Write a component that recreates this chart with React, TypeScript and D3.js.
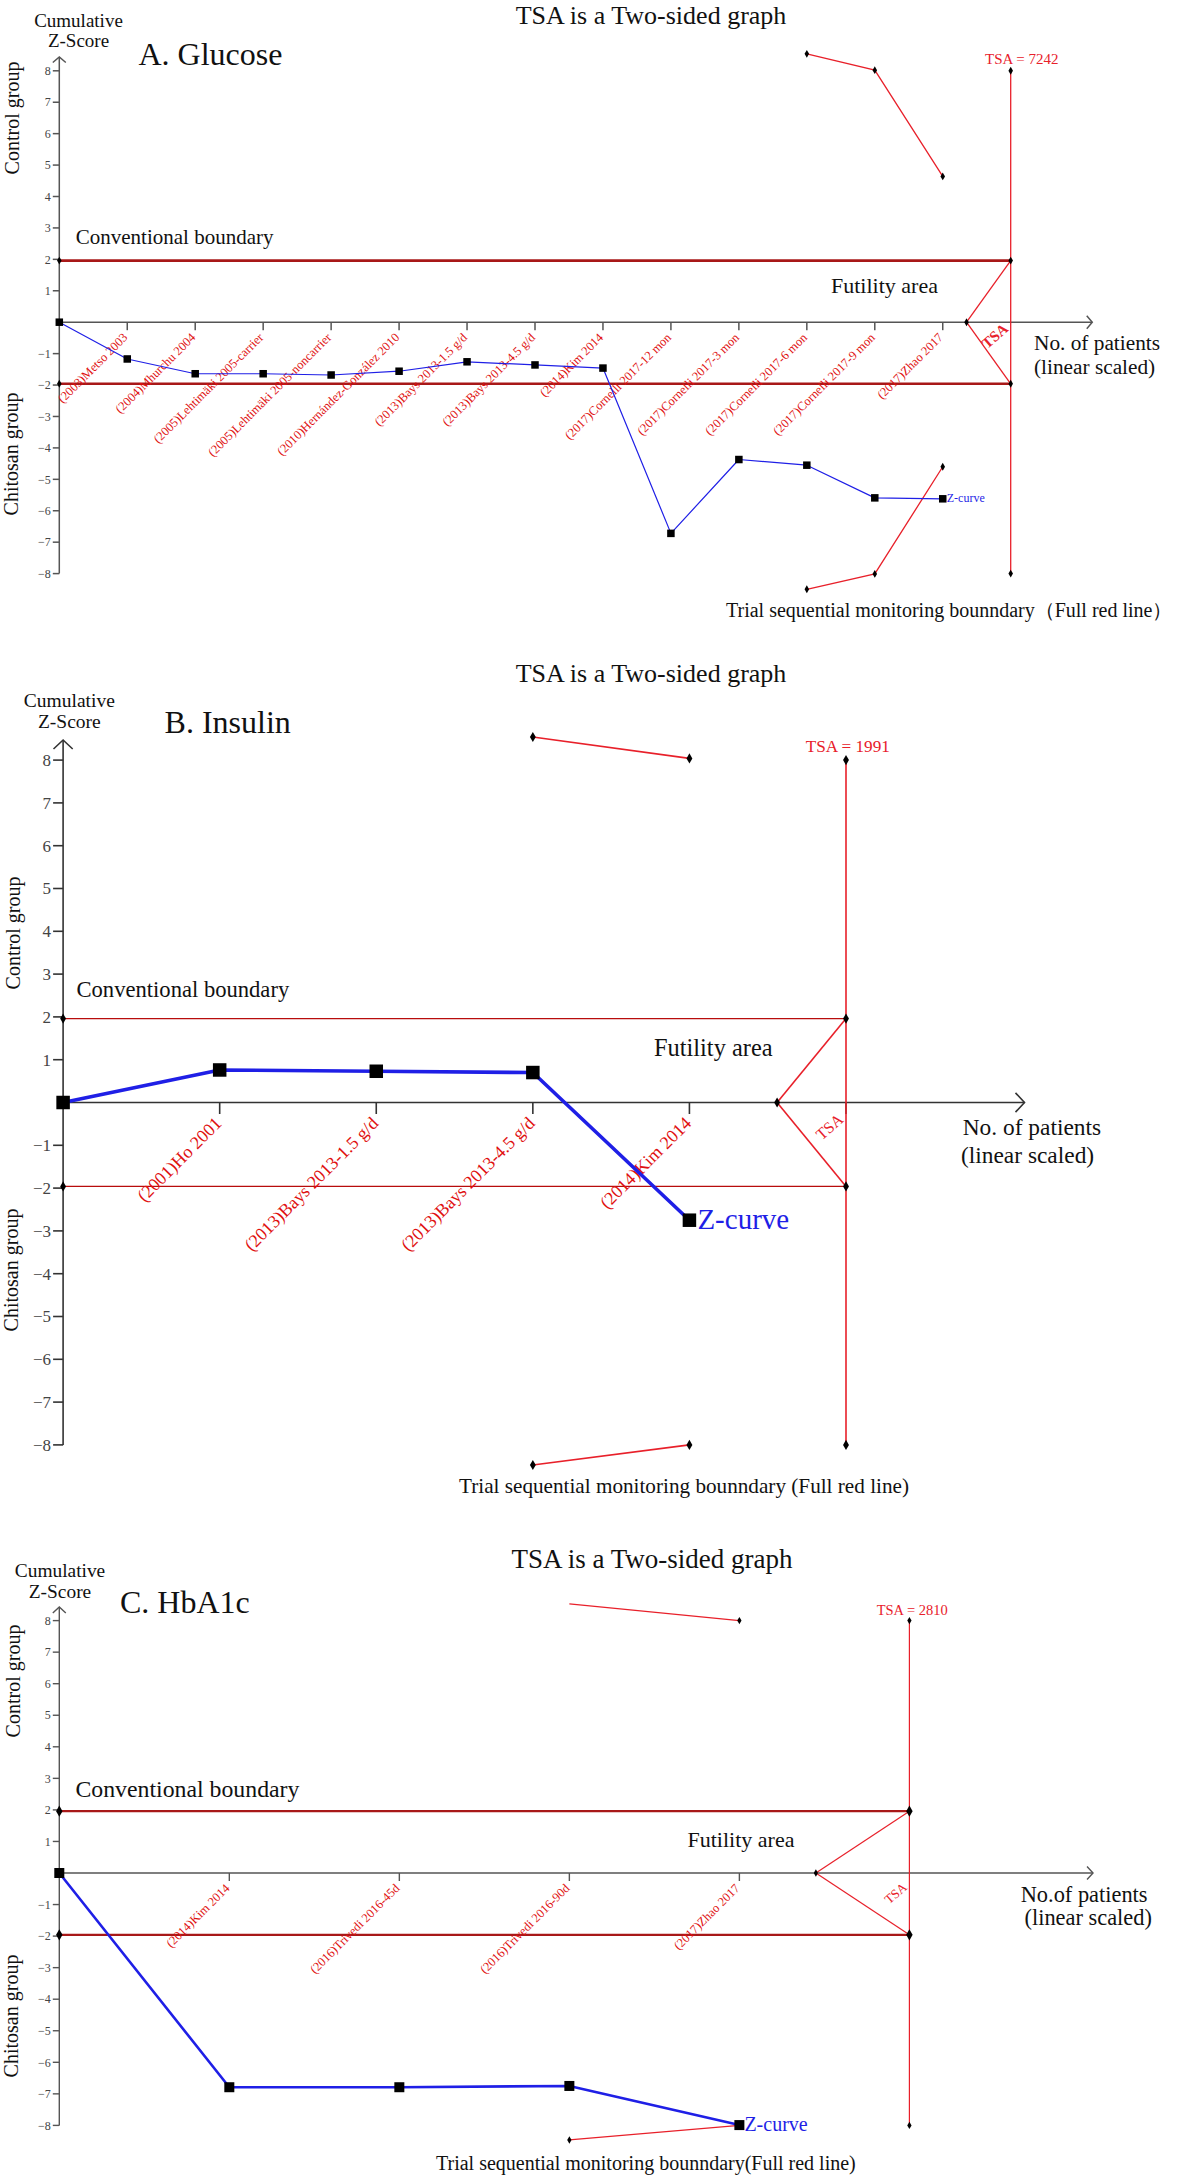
import React from "react";
import * as d3 from "d3";

// ---------------- DATA ----------------
const glucoseStudies = [
  "(2003)Metso 2003",
  "(2004)Mhurchu 2004",
  "(2005)Lehtimäki 2005-carrier",
  "(2005)Lehtimäki 2005-noncarrier",
  "(2010)Hernández-González 2010",
  "(2013)Bays 2013-1.5 g/d",
  "(2013)Bays 2013-4.5 g/d",
  "(2014)Kim 2014",
  "(2017)Cornelli 2017-12 mon",
  "(2017)Cornelli 2017-3 mon",
  "(2017)Cornelli 2017-6 mon",
  "(2017)Cornelli 2017-9 mon",
  "(2017)Zhao 2017",
];
const glucoseZCurve = [0, -1.17, -1.64, -1.64, -1.68, -1.56, -1.26, -1.36, -1.46, -6.72, -4.37, -4.55, -5.59, -5.62];
const glucoseBoundaryAt = [11, 12, 13];
const glucoseUpper = [8.54, 8.02, 4.64];
const glucoseLower = [-8.5, -8.01, -4.6];
const glucoseFutilityAt = 13.35;
const glucoseTSA = 7242;

const insulinStudies = ["(2001)Ho 2001", "(2013)Bays 2013-1.5 g/d", "(2013)Bays 2013-4.5 g/d", "(2014)Kim 2014"];
const insulinZCurve = [0, 0.76, 0.73, 0.7, -2.75];
const insulinBoundaryAt = [3, 4];
const insulinUpper = [8.54, 8.04];
const insulinLower = [-8.47, -8.0];
const insulinFutilityAt = 4.56;
const insulinTSA = 1991;

const hba1cStudies = ["(2014)Kim 2014", "(2016)Trivedi 2016-45d", "(2016)Trivedi 2016-90d", "(2017)Zhao 2017"];
const hba1cZCurve = [0, -6.79, -6.79, -6.75, -7.99];
const hba1cBoundaryAt = [3, 4];
const hba1cUpper = [8.53, 8.0];
const hba1cLower = [-8.46, -8.0];
const hba1cFutilityAt = 4.45;
const hba1cTSA = 2810;

const yTickValues = [8, 7, 6, 5, 4, 3, 2, 1, -1, -2, -3, -4, -5, -6, -7, -8];
const conventionalZ = 1.96;
const tsaEdgeZ = 8;

const panelLabels = ["A. Glucose", "B. Insulin", "C. HbA1c"];
const titleText = "TSA is a Two-sided graph";
const monitorLabels = [
  "Trial sequential monitoring bounndary（Full red line）",
  "Trial sequential monitoring bounndary (Full red line)",
  "Trial sequential monitoring bounndary(Full red line)",
];
const patientsLabels = ["No. of patients", "No. of patients", "No.of patients"];

// ---------------- STYLE / LAYOUT ----------------
const FONT = "'Times New Roman', 'Liberation Serif', Times, serif";
const RED = "#e8202a";
const DARKRED = "#a81818";
const BLUE = "#1f1fe6";

type Layout = {
  left: number; tsaX: number; zTop: number; zBottom: number; axisEndAt: number; arrowTop: number;
  axisColor: string; axisW: number; arrow: [number, number];
  tickLen: number; tickFont: number; tickLabelGap: number;
  convColor: string; convW: number; redW: number;
  zW: number; sq: number; dia: number; diaBig: number;
  studyFont: number; studyDx: number; studyDy: number;
  tsaRotFont: number; tsaRotBold: boolean; tsaRotDy: number; tsaTick: boolean;
  title: [number, number, number];
  cum: [number, number, number, number];
  plabel: [number, number, number];
  ctrlY: number; chitY: number; sideX: [number, number]; sideFont: number;
  conv: [number, number, number];
  fut: [number, number, number];
  pat: [number, number, number, number, number];
  mon: [number, number, number];
  tsaLbl: [number, number, number];
  zLbl: [number, number, number];
};

type Panel = {
  idx: number; studies: string[]; z: number[]; bAt: number[]; up: number[]; lo: number[];
  futAt: number; tsa: number; upStartMark: boolean; L: Layout;
};

const panels: Panel[] = [
  {
    idx: 0, studies: glucoseStudies, z: glucoseZCurve, bAt: glucoseBoundaryAt, up: glucoseUpper, lo: glucoseLower,
    futAt: glucoseFutilityAt, tsa: glucoseTSA, upStartMark: true,
    L: {
      left: 59.3, tsaX: 1010.7, zTop: 70.8, zBottom: 573.6, axisEndAt: 15.2, arrowTop: 57,
      axisColor: "#555", axisW: 1.5, arrow: [6.5, 5.5],
      tickLen: 6.5, tickFont: 12, tickLabelGap: 2,
      convColor: DARKRED, convW: 2.6, redW: 1.3,
      zW: 1.2, sq: 7.5, dia: 18, diaBig: 18,
      studyFont: 12.5, studyDx: 1, studyDy: 16,
      tsaRotFont: 15, tsaRotBold: true, tsaRotDy: 8, tsaTick: false,
      title: [651, 23.5, 26],
      cum: [78.5, 26.7, 46.7, 19],
      plabel: [138.5, 65, 32],
      ctrlY: 118, chitY: 454, sideX: [18.5, 18], sideFont: 20,
      conv: [75.8, 244.3, 21],
      fut: [831, 293, 22],
      pat: [1034, 350, 1034, 374, 21.3],
      mon: [726, 617, 20],
      tsaLbl: [985, 64, 15],
      zLbl: [4, 3, 12],
    },
  },
  {
    idx: 1, studies: insulinStudies, z: insulinZCurve, bAt: insulinBoundaryAt, up: insulinUpper, lo: insulinLower,
    futAt: insulinFutilityAt, tsa: insulinTSA, upStartMark: true,
    L: {
      left: 63.1, tsaX: 846, zTop: 760.1, zBottom: 1444.9, axisEndAt: 6.14, arrowTop: 740,
      axisColor: "#333", axisW: 1.6, arrow: [9.6, 9],
      tickLen: 10, tickFont: 17, tickLabelGap: 2,
      convColor: "#b80c0c", convW: 1.4, redW: 1.6,
      zW: 3.6, sq: 13.5, dia: 30, diaBig: 30,
      studyFont: 18, studyDx: 3, studyDy: 22,
      tsaRotFont: 16, tsaRotBold: false, tsaRotDy: 18.5, tsaTick: true,
      title: [651, 682, 26],
      cum: [69.3, 707, 728, 19.5],
      plabel: [164.6, 733, 32],
      ctrlY: 933, chitY: 1270, sideX: [19.5, 18], sideFont: 20,
      conv: [76.5, 996.7, 22.6],
      fut: [654, 1056, 24.4],
      pat: [962.7, 1135, 961, 1163, 23.4],
      mon: [459, 1493, 21.2],
      tsaLbl: [805.7, 751.7, 17.2],
      zLbl: [8, 9, 29],
    },
  },
  {
    idx: 2, studies: hba1cStudies, z: hba1cZCurve, bAt: hba1cBoundaryAt, up: hba1cUpper, lo: hba1cLower,
    futAt: hba1cFutilityAt, tsa: hba1cTSA, upStartMark: false,
    L: {
      left: 59.3, tsaX: 909.4, zTop: 1620.6, zBottom: 2125.4, axisEndAt: 6.08, arrowTop: 1607,
      axisColor: "#555", axisW: 1.4, arrow: [6.5, 6],
      tickLen: 6.5, tickFont: 12, tickLabelGap: 2,
      convColor: DARKRED, convW: 2.2, redW: 1.2,
      zW: 2.6, sq: 10, dia: 16, diaBig: 36,
      studyFont: 12.5, studyDx: 1, studyDy: 16,
      tsaRotFont: 13, tsaRotBold: false, tsaRotDy: 15.5, tsaTick: false,
      title: [652, 1568, 27],
      cum: [60, 1577, 1598, 19.4],
      plabel: [120, 1613, 32],
      ctrlY: 1681, chitY: 2016, sideX: [19.5, 18], sideFont: 20,
      conv: [75.4, 1796.7, 23.8],
      fut: [687.5, 1846.7, 22],
      pat: [1020.7, 1901.7, 1024.5, 1925, 22.4],
      mon: [436, 2170, 20],
      tsaLbl: [876.7, 1615, 14.5],
      zLbl: [5, 6, 20],
    },
  },
];

const minus = (v: number) => String(v).replace("-", "\u2212");

function PanelView({ p }: { p: Panel }) {
  const L = p.L;
  const n = p.studies.length;
  const tsaAt = n + 1;
  const x = d3.scaleLinear().domain([0, tsaAt]).range([L.left, L.tsaX]);
  const y = d3.scaleLinear().domain([-tsaEdgeZ, tsaEdgeZ]).range([L.zBottom, L.zTop]);
  const y0 = y(0);
  const xEnd = x(L.axisEndAt);
  const [aw, ah] = L.arrow;
  const diamond = d3.symbol().type(d3.symbolDiamond);
  const dSmall = diamond.size(L.dia)() as string;
  const dBig = diamond.size(L.diaBig)() as string;

  const zLine = d3.line<number>().x((_, i) => x(i)).y((d) => y(d))(p.z) as string;
  const bLine = (vals: number[]) =>
    d3.line<number>().x((_, i) => x(p.bAt[i])).y((d) => y(d))(vals) as string;

  const last = p.z.length - 1;
  const tsaRot = -41;

  return (
    <g fontFamily={FONT}>
      {/* header texts */}
      <text x={L.title[0]} y={L.title[1]} fontSize={L.title[2]} textAnchor="middle" fill="#111">{titleText}</text>
      <text x={L.cum[0]} y={L.cum[1]} fontSize={L.cum[3]} textAnchor="middle" fill="#111">Cumulative</text>
      <text x={L.cum[0]} y={L.cum[2]} fontSize={L.cum[3]} textAnchor="middle" fill="#111">Z-Score</text>
      <text x={L.plabel[0]} y={L.plabel[1]} fontSize={L.plabel[2]} fill="#111">{panelLabels[p.idx]}</text>
      <text transform={`translate(${L.sideX[0]},${L.ctrlY}) rotate(-90)`} fontSize={L.sideFont} textAnchor="middle" fill="#111">Control group</text>
      <text transform={`translate(${L.sideX[1]},${L.chitY}) rotate(-90)`} fontSize={L.sideFont} textAnchor="middle" fill="#111">Chitosan group</text>

      {/* y axis */}
      <line x1={L.left} x2={L.left} y1={L.arrowTop} y2={y(-8)} stroke={L.axisColor} strokeWidth={L.axisW} />
      <path d={`M${L.left - aw},${L.arrowTop + ah} L${L.left},${L.arrowTop} L${L.left + aw},${L.arrowTop + ah}`} fill="none" stroke={L.axisColor} strokeWidth={L.axisW} />
      {yTickValues.map((v) => (
        <g key={v}>
          <line x1={L.left - L.tickLen} x2={L.left} y1={y(v)} y2={y(v)} stroke={L.axisColor} strokeWidth={L.axisW} />
          <text x={L.left - L.tickLen - L.tickLabelGap} y={y(v)} dy="0.35em" fontSize={L.tickFont} textAnchor="end" fill="#444">{minus(v)}</text>
        </g>
      ))}

      {/* conventional boundaries */}
      <line x1={L.left} x2={L.tsaX} y1={y(conventionalZ)} y2={y(conventionalZ)} stroke={L.convColor} strokeWidth={L.convW} />
      <line x1={L.left} x2={L.tsaX} y1={y(-conventionalZ)} y2={y(-conventionalZ)} stroke={L.convColor} strokeWidth={L.convW} />
      <path d={dBig} transform={`translate(${L.left},${y(conventionalZ)})`} fill="#000" />
      <path d={dBig} transform={`translate(${L.left},${y(-conventionalZ)})`} fill="#000" />

      {/* x axis */}
      <line x1={L.left} x2={xEnd} y1={y0} y2={y0} stroke={L.axisColor} strokeWidth={L.axisW} />
      <path d={`M${xEnd - ah},${y0 - aw} L${xEnd},${y0} L${xEnd - ah},${y0 + aw}`} fill="none" stroke={L.axisColor} strokeWidth={L.axisW} />
      {p.studies.map((s, i) => (
        <g key={s + i}>
          <line x1={x(i + 1)} x2={x(i + 1)} y1={y0} y2={y0 + L.tickLen + 1.5} stroke={L.axisColor} strokeWidth={L.axisW} />
          <text transform={`translate(${x(i + 1) + L.studyDx},${y0 + L.studyDy}) rotate(-45)`} fontSize={L.studyFont} textAnchor="end" fill="#e01010">{s}</text>
        </g>
      ))}
      {L.tsaTick && <line x1={x(tsaAt)} x2={x(tsaAt)} y1={y0} y2={y0 + L.tickLen + 1.5} stroke={L.axisColor} strokeWidth={L.axisW} />}

      {/* TSA vertical, futility wedge */}
      <line x1={x(tsaAt)} x2={x(tsaAt)} y1={y(tsaEdgeZ)} y2={y(-tsaEdgeZ)} stroke={RED} strokeWidth={L.redW} />
      <line x1={x(p.futAt)} y1={y0} x2={x(tsaAt)} y2={y(conventionalZ)} stroke={RED} strokeWidth={L.redW} />
      <line x1={x(p.futAt)} y1={y0} x2={x(tsaAt)} y2={y(-conventionalZ)} stroke={RED} strokeWidth={L.redW} />
      <path d={dSmall} transform={`translate(${x(p.futAt)},${y0})`} fill="#000" />
      {[tsaEdgeZ, -tsaEdgeZ].map((v) => (
        <path key={v} d={dSmall} transform={`translate(${x(tsaAt)},${y(v)})`} fill="#000" />
      ))}
      {[conventionalZ, -conventionalZ].map((v) => (
        <path key={v} d={dBig} transform={`translate(${x(tsaAt)},${y(v)})`} fill="#000" />
      ))}

      {/* monitoring boundaries */}
      <path d={bLine(p.up)} fill="none" stroke={RED} strokeWidth={L.redW} />
      <path d={bLine(p.lo)} fill="none" stroke={RED} strokeWidth={L.redW} />
      {p.up.map((v, i) => (i === 0 && !p.upStartMark ? null : (
        <path key={"u" + i} d={dSmall} transform={`translate(${x(p.bAt[i])},${y(v)})`} fill="#000" />
      )))}
      {p.lo.map((v, i) => (
        <path key={"l" + i} d={dSmall} transform={`translate(${x(p.bAt[i])},${y(v)})`} fill="#000" />
      ))}

      {/* Z-curve */}
      <path d={zLine} fill="none" stroke={BLUE} strokeWidth={L.zW} strokeLinejoin="round" />
      {p.z.map((v, i) => (
        <rect key={i} x={x(i) - L.sq / 2} y={y(v) - L.sq / 2} width={L.sq} height={L.sq} fill="#000" />
      ))}
      <text x={x(last) + L.zLbl[0]} y={y(p.z[last]) + L.zLbl[1]} fontSize={L.zLbl[2]} fill={BLUE}>Z-curve</text>

      {/* annotations */}
      <text x={L.tsaLbl[0]} y={L.tsaLbl[1]} fontSize={L.tsaLbl[2]} fill={RED}>{`TSA = ${p.tsa}`}</text>
      <text transform={`translate(${x(tsaAt) - 1.5},${y0 + L.tsaRotDy}) rotate(${tsaRot})`} fontSize={L.tsaRotFont} fontWeight={L.tsaRotBold ? "bold" : "normal"} textAnchor="end" fill={RED}>TSA</text>
      <text x={L.conv[0]} y={L.conv[1]} fontSize={L.conv[2]} fill="#111">Conventional boundary</text>
      <text x={L.fut[0]} y={L.fut[1]} fontSize={L.fut[2]} fill="#111">Futility area</text>
      <text x={L.pat[0]} y={L.pat[1]} fontSize={L.pat[4]} fill="#111">{patientsLabels[p.idx]}</text>
      <text x={L.pat[2]} y={L.pat[3]} fontSize={L.pat[4]} fill="#111">(linear scaled)</text>
      <text x={L.mon[0]} y={L.mon[1]} fontSize={L.mon[2]} fill="#111">{monitorLabels[p.idx]}</text>
    </g>
  );
}

export default function App() {
  return (
    <svg width={1182} height={2177} viewBox="0 0 1182 2177" style={{ position: "absolute", left: 0, top: 0, background: "#fff" }}>
      <rect x={0} y={0} width={1182} height={2177} fill="#fff" />
      {panels.map((p) => (
        <PanelView key={p.idx} p={p} />
      ))}
    </svg>
  );
}
